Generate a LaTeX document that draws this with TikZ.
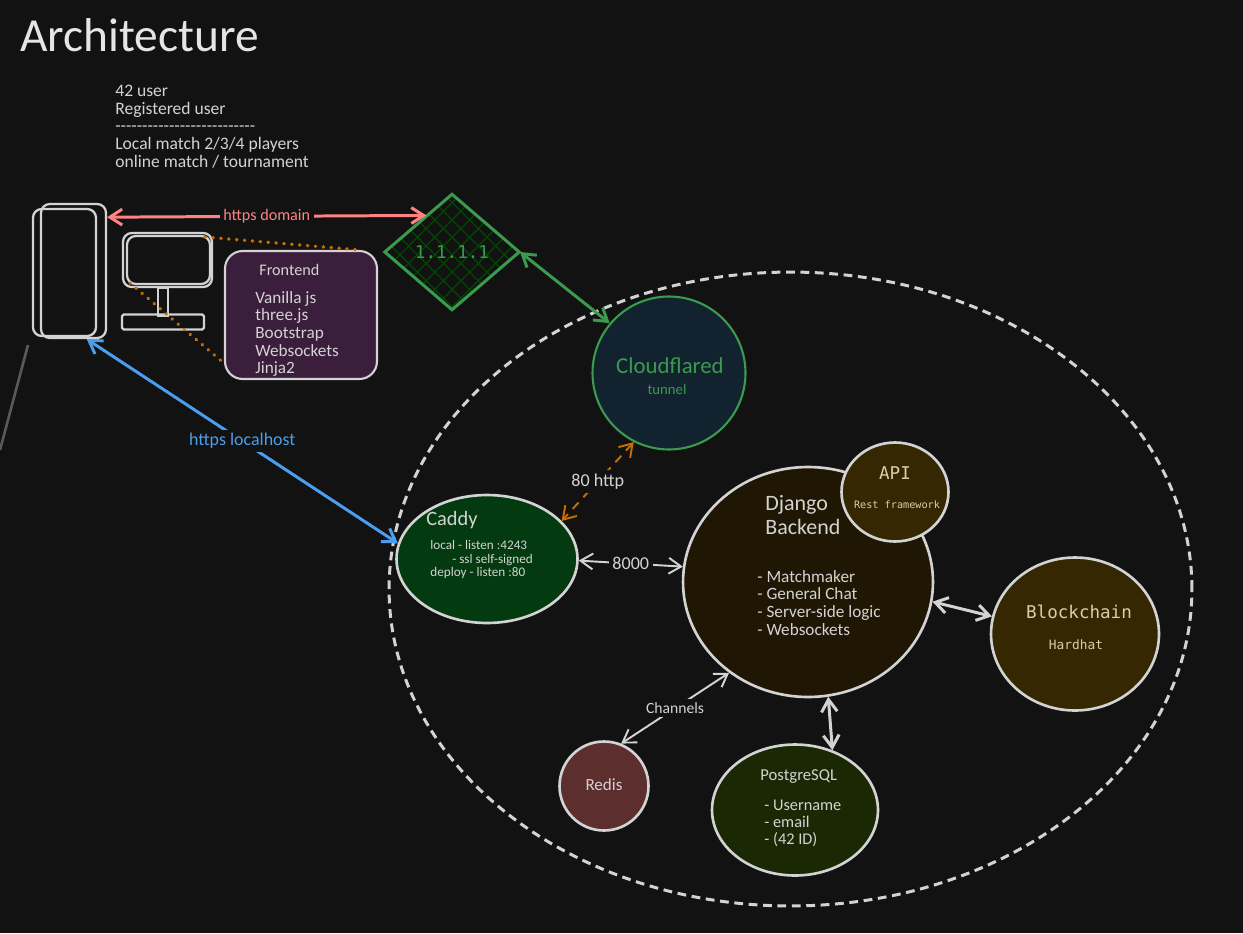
\documentclass[tikz,border=0pt]{standalone}
\usepackage{fontspec}
\setmainfont{Carlito}
\newfontfamily\codefont{DejaVu Sans Mono}
\usetikzlibrary{arrows.meta,patterns.meta,shapes.geometric}
\definecolor{pagebg}{HTML}{121212}
\definecolor{inkline}{HTML}{D3D3D3}
\definecolor{inktan}{HTML}{D6D0A4}
\definecolor{linkred}{HTML}{FF8383}
\definecolor{linkblue}{HTML}{4A9EED}
\definecolor{linkgreen}{HTML}{3A9A4E}
\definecolor{linkorange}{HTML}{C76E00}
\definecolor{fillfront}{HTML}{3B1E3B}
\definecolor{filltunnel}{HTML}{13222F}
\definecolor{fillcaddy}{HTML}{043A0F}
\definecolor{filldjango}{HTML}{1F1703}
\definecolor{fillchain}{HTML}{362703}
\definecolor{fillredis}{HTML}{5C2E2E}
\definecolor{fillpg}{HTML}{1A2804}
\newcommand{\fsize}[2]{\fontsize{#1}{#2}\selectfont}
\tikzstyle{txt}=[text=inkline, inner sep=0pt, align=left]
\tikzstyle{code}=[text=inktan, inner sep=0pt]
\tikzstyle{gap}=[fill=pagebg, inner sep=2pt, text=inkline]
\tikzstyle{blob}=[ellipse, draw=inkline, line width=1.5pt, inner sep=0pt]
\tikzstyle{link}=[draw=inkline, line width=1.1pt, {Straight Barb[length=7pt,width=9pt]}-{Straight Barb[length=7pt,width=9pt]}]
\tikzstyle{boldlink}=[link, line width=1.7pt]
\tikzstyle{dotline}=[linkorange, line width=2pt, line cap=round, dash pattern=on 0.2pt off 4.3pt]
\tikzstyle{device}=[draw=inkline, line width=1.3pt, inner sep=0pt]
\newcommand{\blob}{\node[blob]}
\begin{document}
\begin{tikzpicture}[x=0.02cm,y=-0.02cm]
            \useasboundingbox[fill=pagebg] (0,0) rectangle (1243,933);
            % boundary
            \node[ellipse, draw=inkline, line width=1.7pt, dash pattern=on 5pt off 3.2pt, minimum width=16.06cm, minimum height=12.68cm, inner sep=0pt] (host) at (790.5,589){};
            % clients
            \draw[inkline, line width=1.3pt, rounded corners=5pt] (33,209) rectangle (96,336);
            \node[device, rounded corners=5pt, minimum width=1.3cm, minimum height=2.68cm] (phone) at (73.5,271){};
            \node[device, rounded corners=5pt, minimum width=1.78cm, minimum height=1.08cm] (screen) at (167.5,260){};
            \draw[inkline, line width=1.3pt, rounded corners=5pt] (127,236) rectangle (210,284);
            \node[device, minimum width=0.2cm, minimum height=0.56cm] (stand) at (163,302){};
            \node[device, rounded corners=1pt, minimum width=1.64cm, minimum height=0.3cm] (foot) at (163,322){};
            \coordinate (slashA) at (28,345);
            \coordinate (slashB) at (0,450);
            \draw[pagebg!70!white, line width=1.5pt] (slashA) -- (slashB);
            % frontend
            \node[draw=inkline, line width=1.2pt, fill=fillfront, rounded corners=10pt, minimum width=3.04cm, minimum height=2.56cm, inner sep=0pt] (front) at (301,315){};
            \coordinate (screenA) at (205,237);
            \coordinate (screenB) at (130,283);
            \draw[dotline] (screenA) -- (front.48);
            \draw[dotline] (screenB) -- (front.212);
            \node[txt, anchor=west, font=\fsize{9.2}{10}] (frontT) at (259,270) {Frontend};
            \node[txt, anchor=north west, font=\fsize{9.8}{10}] (frontL) at (255,291) {Vanilla js\\three.js\\Bootstrap\\Websockets\\Jinja2};
            % dns
            \node[diamond, draw=linkgreen, line width=1.7pt, pattern={Hatch[angle=45,distance=7pt,line width=0.7pt]}, pattern color=green!28!black, aspect=1.17, minimum width=2.7cm, minimum height=2.32cm, inner sep=0pt] (dns) at (452,252){};
            \node[code, text=linkgreen, font=\codefont\fsize{10}{12}] (dnsT) at (452,252) {1.1.1.1};
            % services
            \blob[draw=linkgreen, line width=1.2pt, fill=filltunnel, minimum size=3.06cm] (tunnel) at (669,373){};
            \node[txt, text=linkgreen, font=\fsize{13}{15}] (tunnelT) at (670,366) {Cloudflared};
            \node[txt, text=linkgreen, font=\fsize{8.4}{10}] (tunnelS) at (667,389) {tunnel};
            \blob[fill=fillcaddy, minimum width=3.62cm, minimum height=2.56cm] (caddy) at (487,559){};
            \node[txt, anchor=west, font=\fsize{11.6}{13}] (caddyT) at (426,520) {Caddy};
            \node[txt, anchor=north west, font=\fsize{7.5}{7.7}] (caddyL) at (430,540) {local - listen :4243\\\hspace*{12.5pt}- ssl self-signed\\deploy - listen :80};
            \blob[fill=filldjango, minimum width=5cm, minimum height=4.6cm] (django) at (808,582){};
            \node[txt, anchor=north west, font=\fsize{12.5}{13.6}] (djangoT) at (765,495) {Django\\Backend};
            \node[txt, anchor=north west, font=\fsize{9.8}{10}] (djangoL) at (757,570) {- Matchmaker\\- General Chat\\- Server-side logic\\- Websockets};
            \blob[fill=fillchain, minimum width=2.14cm, minimum height=1.98cm] (api) at (895,492){};
            \node[code, font=\codefont\fsize{10}{12}] (apiT) at (895,473) {API};
            \node[code, font=\codefont\fsize{5.8}{7}] (apiS) at (897,505) {Rest framework};
            \blob[fill=fillchain, minimum width=3.36cm, minimum height=3.06cm] (chain) at (1075,634){};
            \node[code, font=\codefont\fsize{10}{12}] (chainT) at (1079,612) {Blockchain};
            \node[code, font=\codefont\fsize{7.3}{9}] (chainS) at (1076,645) {Hardhat};
            \blob[fill=fillredis, minimum size=1.78cm] (redis) at (604,786){};
            \node[txt, font=\fsize{9.7}{11}] (redisT) at (604,785) {Redis};
            \blob[fill=fillpg, minimum width=3.32cm, minimum height=2.62cm] (pg) at (795,810){};
            \node[txt, anchor=west, font=\fsize{9.5}{11}] (pgT) at (760,777) {PostgreSQL};
            \node[txt, anchor=north west, font=\fsize{9.3}{9.7}] (pgL) at (764,800) {- Username\\- email\\- (42 ID)};
            % links
            \path
                (phone.58) edge[boldlink, draw=linkred] node[gap, text=linkred, font=\fsize{9.2}{11}] {https domain} (dns.125)
                (phone.281) edge[boldlink, draw=linkblue] node[gap, text=linkblue, font=\fsize{10.2}{12}] {https localhost} (caddy.170)
                (dns.east) edge[boldlink, draw=linkgreen] (tunnel.140)
                (tunnel.243) edge[link, draw=linkorange, dash pattern=on 5pt off 4pt] node[gap, font=\fsize{10.3}{12}] {80 http} (caddy.27)
                (caddy.359) edge[link] node[gap, font=\fsize{10.3}{12}] {8000} (django.173)
                (django.229) edge[link] node[gap, font=\fsize{8.9}{11}] {Channels} (redis.68)
                (django.351) edge[boldlink] (chain.168)
                (django.280) edge[boldlink] (pg.58)
            ;
            % heading
            \node[txt, text=white!90!black, anchor=west, font=\fsize{27}{30}] (title) at (20,35) {Architecture};
            \node[txt, anchor=north west, font=\fsize{10}{10}] (users) at (115,85) {42 user\\Registered user\\-{}-{}-{}-{}-{}-{}-{}-{}-{}-{}-{}-{}-{}-{}-{}-{}-{}-{}-{}-{}-{}-{}-{}-{}-{}-{}\\Local match 2/3/4 players\\online match / tournament};
        \end{tikzpicture}
\end{document}
